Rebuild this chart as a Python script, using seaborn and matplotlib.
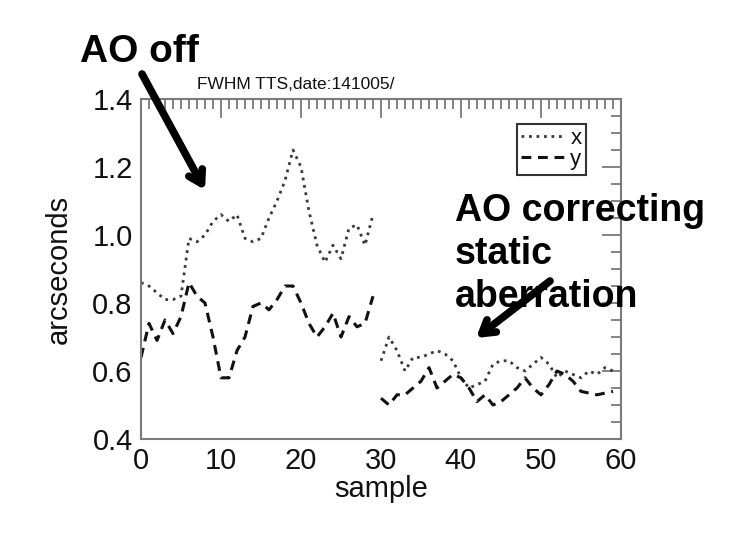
import numpy as np
import pandas as pd
import matplotlib
matplotlib.use("Agg")
import matplotlib.pyplot as plt
from matplotlib.ticker import MultipleLocator
import seaborn as sns

# FWHM of the tip-tilt sensor spot
sample_off = list(range(0, 30))
sample_on = list(range(30, 60))

fwhm_x_off = [0.86, 0.85, 0.83, 0.81, 0.81, 0.82, 0.99, 0.98, 1.00, 1.04,
              1.06, 1.04, 1.06, 0.99, 0.98, 0.99, 1.05, 1.10, 1.16, 1.25,
              1.20, 1.07, 0.97, 0.92, 0.97, 0.93, 1.02, 1.03, 0.97, 1.06]
fwhm_y_off = [0.64, 0.74, 0.69, 0.75, 0.71, 0.76, 0.86, 0.82, 0.80, 0.70,
              0.58, 0.58, 0.66, 0.70, 0.79, 0.80, 0.78, 0.81, 0.85, 0.85,
              0.80, 0.74, 0.70, 0.73, 0.77, 0.70, 0.76, 0.73, 0.74, 0.82]
fwhm_x_on = [0.63, 0.70, 0.66, 0.60, 0.64, 0.64, 0.65, 0.66, 0.65, 0.63,
             0.58, 0.55, 0.56, 0.57, 0.62, 0.63, 0.63, 0.61, 0.60, 0.62,
             0.64, 0.62, 0.58, 0.60, 0.59, 0.58, 0.60, 0.59, 0.61, 0.60]
fwhm_y_on = [0.52, 0.50, 0.53, 0.53, 0.55, 0.57, 0.61, 0.55, 0.57, 0.59,
             0.58, 0.55, 0.51, 0.53, 0.50, 0.51, 0.53, 0.55, 0.58, 0.55,
             0.53, 0.56, 0.60, 0.59, 0.57, 0.54, 0.535, 0.53, 0.535, 0.54]

sns.set_style("white")
plt.rcParams['font.family'] = ['Liberation Sans', 'DejaVu Sans']
plt.rcParams['text.color'] = 'black'

fig = plt.figure(figsize=(7.43, 5.35), dpi=100)
ax = fig.add_axes([141 / 743, 1 - 439 / 535, 480 / 743, 340 / 535])

frame = '#7a7a7a'
dot_kw = dict(color='#3a3a3a', linestyle=(0, (1, 1.7)), linewidth=2.0)
dash_kw = dict(color='#111111', linestyle=(0, (3.2, 2.2)), linewidth=2.2)

sns.lineplot(x=sample_off, y=fwhm_x_off, ax=ax, label='x', **dot_kw)
sns.lineplot(x=sample_off, y=fwhm_y_off, ax=ax, label='y', **dash_kw)
sns.lineplot(x=sample_on, y=fwhm_x_on, ax=ax, **dot_kw)
sns.lineplot(x=sample_on, y=fwhm_y_on, ax=ax, **dash_kw)

ax.set_xlim(0, 60)
ax.set_ylim(0.4, 1.4)
ax.xaxis.set_major_locator(MultipleLocator(10))
ax.xaxis.set_minor_locator(MultipleLocator(1))
ax.yaxis.set_major_locator(MultipleLocator(0.2))
ax.yaxis.set_minor_locator(MultipleLocator(0.05))
ax.set_yticklabels([f"{v:.1f}" for v in ax.get_yticks()])

ax.tick_params(which='both', direction='in', top=True, right=True,
               color=frame, width=1.3, labelsize=21, labelcolor='#111111')
ax.tick_params(which='major', length=14, pad=6)
ax.tick_params(which='minor', length=7)
for s in ax.spines.values():
    s.set_color(frame)
    s.set_linewidth(1.5)

ax.set_xlabel('sample', fontsize=21, labelpad=0, color='#111111')
ax.set_ylabel('arcseconds', fontsize=21, labelpad=14, color='#111111')
fig.text(296 / 743, 1 - 89 / 535, 'FWHM TTS,date:141005/', ha='center',
         va='baseline', fontsize=12.5, color='#111111')

leg = ax.legend(loc='upper right', bbox_to_anchor=(0.95, 0.96), fontsize=16,
                handlelength=2.0, handletextpad=0.2, borderpad=0.2,
                labelspacing=0.0, fancybox=False, framealpha=1)
leg.get_frame().set_edgecolor('#333333')
leg.get_frame().set_linewidth(1.5)
for t in leg.get_texts():
    t.set_color('#111111')

fig.text(80 / 743, 1 - 62 / 535, 'AO off', fontsize=28, fontweight='bold',
         va='baseline', color='black')
fig.text(455 / 743, 1 - 193 / 535, 'AO correcting\nstatic\naberration',
         fontsize=27, fontweight='bold', va='top', linespacing=1.25,
         color='black')

arrow = dict(arrowstyle='->,head_length=0.9,head_width=0.55', lw=5.5,
             color='black', shrinkA=0, shrinkB=0)
ax.annotate('', xy=(205 / 743, 1 - 190 / 535), xytext=(142 / 743, 1 - 74 / 535),
            xycoords='figure fraction', textcoords='figure fraction',
            arrowprops=arrow, annotation_clip=False)
ax.annotate('', xy=(476 / 743, 1 - 338 / 535), xytext=(550 / 743, 1 - 281 / 535),
            xycoords='figure fraction', textcoords='figure fraction',
            arrowprops=arrow, annotation_clip=False)

fig.savefig('out.png', dpi=100)
